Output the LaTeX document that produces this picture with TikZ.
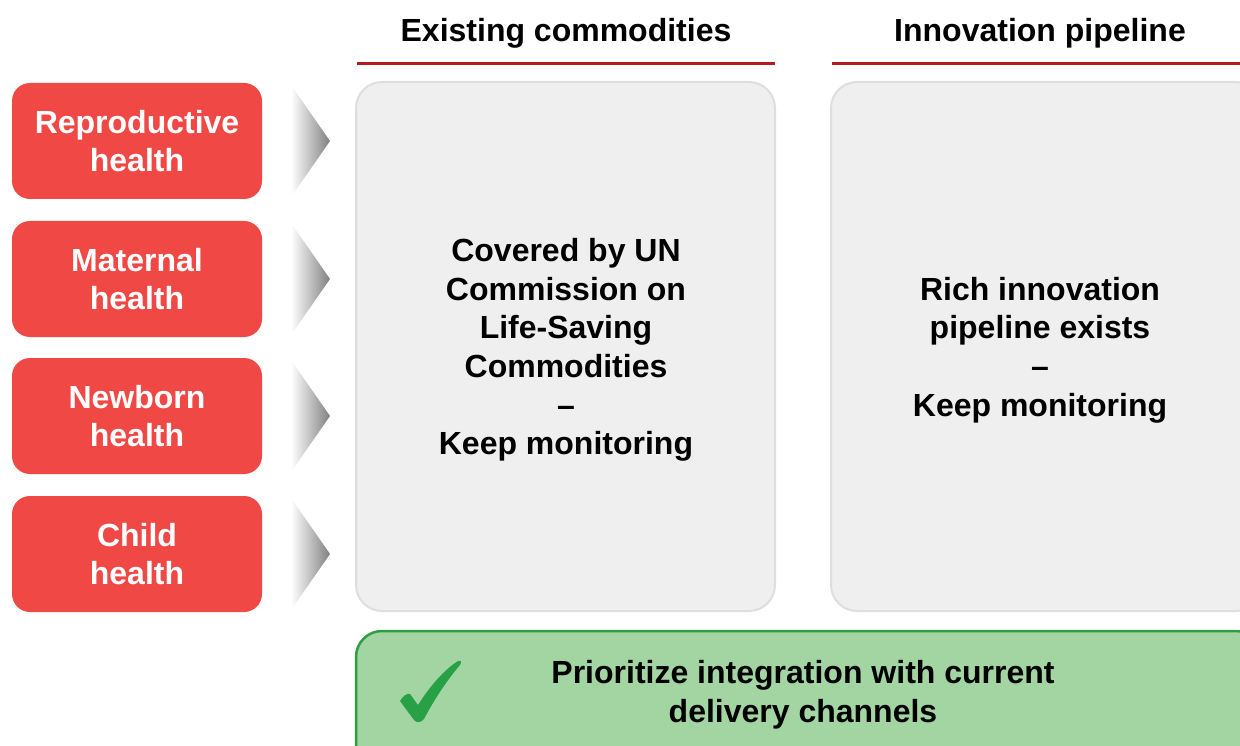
\documentclass[tikz,border=0pt]{standalone}
\usepackage{fontspec}
\setmainfont{Liberation Sans}
\definecolor{redbox}{HTML}{F04845}
\definecolor{headline}{HTML}{B71C1C}
\definecolor{grayfill}{HTML}{EFEFEF}
\definecolor{grayline}{HTML}{DEDEDE}
\definecolor{greenfill}{HTML}{A2D5A2}
\definecolor{greenline}{HTML}{2E9E45}
\definecolor{checkgreen}{HTML}{28A045}
\tikzset{
  redcard/.style={draw=none, fill=redbox, rounded corners=18pt},
  redtext/.style={text=white, font=\bfseries\fontsize{32}{38.5}\selectfont, align=center},
  graycard/.style={draw=grayline, line width=2pt, fill=grayfill, rounded corners=26pt},
  bodytext/.style={text=black, font=\bfseries\fontsize{32}{38.6}\selectfont, align=center},
  headtext/.style={text=black, font=\bfseries\fontsize{32}{34}\selectfont},
  headrule/.style={draw=headline, line width=3pt},
  chev/.style={left color=white, right color=black!50, draw=none},
}
\begin{document}
\begin{tikzpicture}[x=1pt,y=-1pt]
\useasboundingbox (0,0) rectangle (1240,746);
\clip (0,0) rectangle (1240,746);
% headers
\node[headtext] (h1) at (566,33) {Existing commodities};
\node[headtext] (h2) at (1040,33) {Innovation pipeline};
\draw[headrule] (357,64) -- (775,64);
\draw[headrule] (832,64) -- (1240,64);
% red cards
\foreach \i/\yt/\txt in {1/83/{Reproductive\\health},2/221/{Maternal\\health},3/358/{Newborn\\health},4/496/{Child\\health}}{
  \path[redcard] (12,\yt) rectangle (262,\yt+116);
  \node[redtext] (r\i) at (137,\yt+58) {\txt};
  \shade[chev] (291,\yt+2) -- (330,\yt+58) -- (291,\yt+114) -- cycle;
}
% gray cards
\path[graycard] (356,82) rectangle (775,611);
\path[graycard] (831,82) rectangle (1262,611);
\node[bodytext] (t1) at (566,350) {Covered by UN\\Commission on\\Life-Saving\\Commodities\\--\\Keep monitoring};
\node[bodytext] (t2) at (1040,350) {Rich innovation\\pipeline exists\\--\\Keep monitoring};
% green card
\path[draw=greenline, line width=2.5pt, fill=greenfill, rounded corners=26pt] (356,631) rectangle (1262,775);
\node[bodytext] (g) at (803,695) {Prioritize integration with current\\delivery channels};
\fill[checkgreen] (400,701) .. controls (403,696) and (407,693) .. (410,694) -- (418,705) .. controls (430,686) and (444,670) .. (458,661) .. controls (461,660) and (462,662) .. (460,665) .. controls (448,679) and (435,698) .. (424,719) .. controls (421,723) and (416,723) .. (414,720) -- cycle;
\end{tikzpicture}
\end{document}
